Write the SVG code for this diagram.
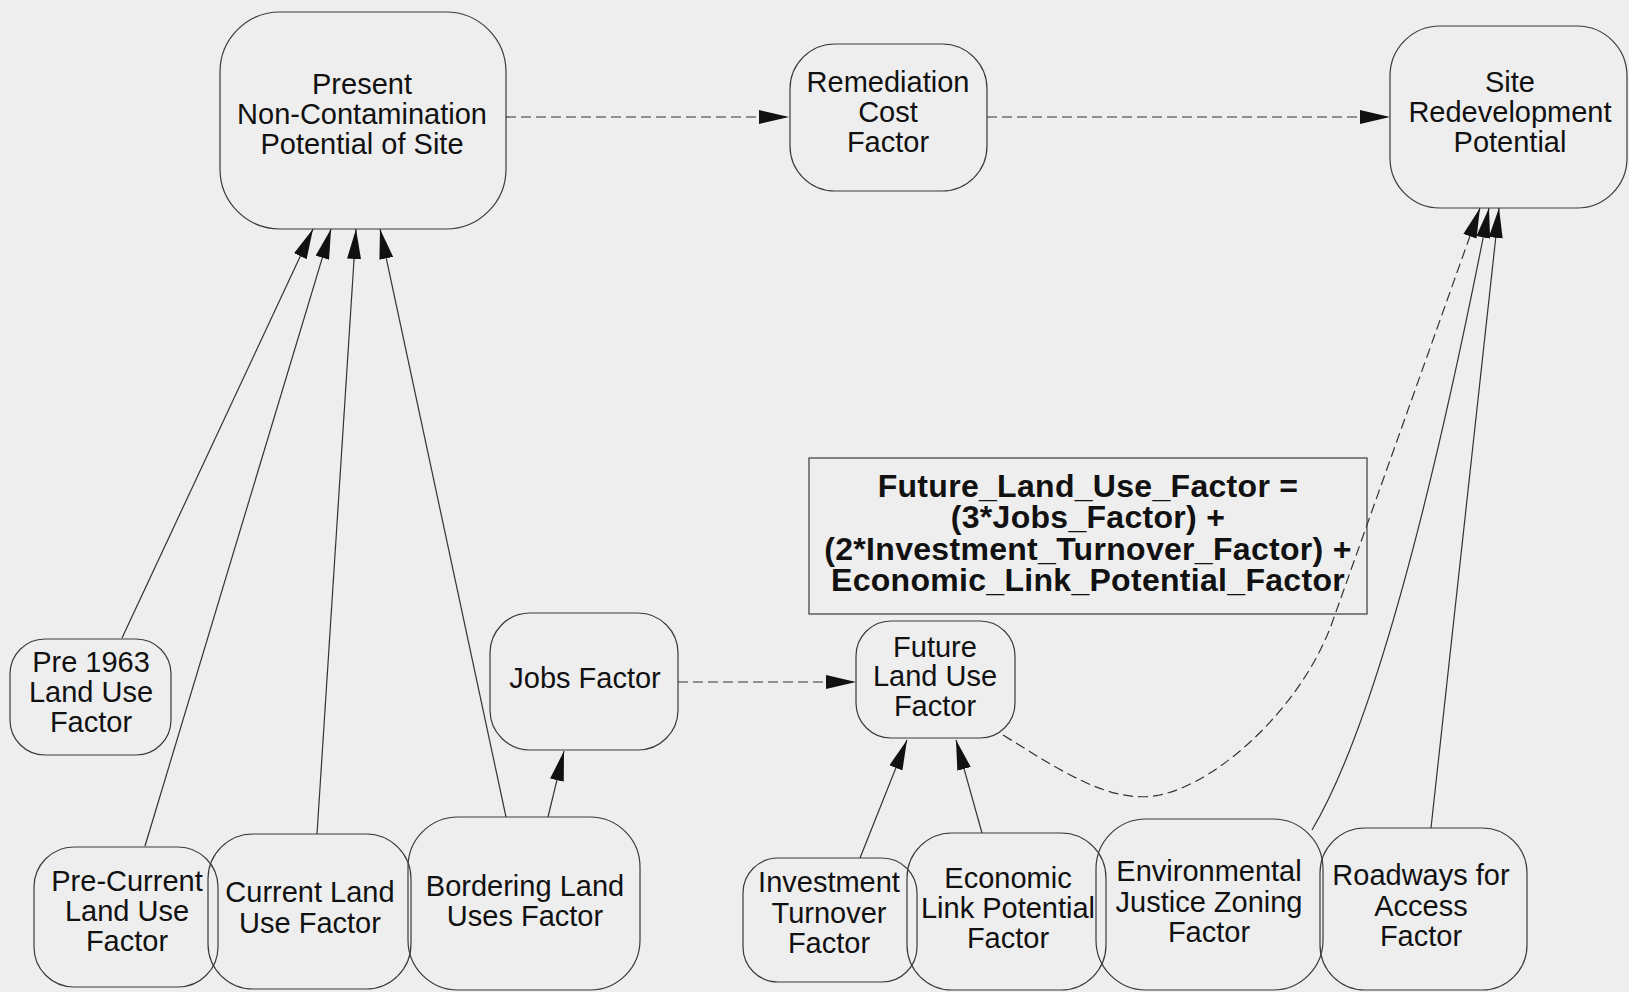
<svg xmlns="http://www.w3.org/2000/svg" width="1629" height="992" viewBox="0 0 1629 992">
  <style>
    .node { fill: none; stroke: #3a3a3a; stroke-width: 1.2; }
    .lbl { font-family: "Liberation Sans", Arial, sans-serif; font-size: 29px; fill: #111; text-anchor: middle; }
    .eq { font-family: "Liberation Sans", Arial, sans-serif; font-size: 32px; font-weight: bold; letter-spacing: 0.3px; fill: #111; text-anchor: middle; }
    .link { fill: none; stroke: #333; stroke-width: 1.2; marker-end: url(#arrow); }
    .flow { stroke-dasharray: 10 5; }
  </style>
  <defs>
    <marker id="arrow" viewBox="0 0 30 14" refX="30" refY="7" markerWidth="30" markerHeight="14" markerUnits="userSpaceOnUse" orient="auto">
      <path d="M0,0 L30,7 L0,14 z" fill="#111"/>
    </marker>
  </defs>

  <rect width="1629" height="992" fill="#eeeeee"/>

  <!-- connectors -->
  <g id="connectors">
    <line class="link flow" x1="506" y1="117" x2="789" y2="117"/>
    <line class="link flow" x1="987" y1="117" x2="1390" y2="117"/>
    <line class="link" x1="122" y1="638" x2="313" y2="229"/>
    <line class="link" x1="145" y1="846" x2="331" y2="229"/>
    <line class="link" x1="317" y1="834" x2="356" y2="229"/>
    <line class="link" x1="506" y1="817" x2="380" y2="229"/>
    <line class="link" x1="548" y1="817" x2="564" y2="751"/>
    <line class="link flow" x1="678" y1="682" x2="856" y2="682"/>
    <line class="link" x1="860" y1="858" x2="907" y2="740"/>
    <line class="link" x1="982" y1="833" x2="956" y2="740"/>
    <!-- future land use feeds the site potential, passing behind the formula box -->
    <path class="link flow" d="M1003,735 C1060,770 1110,805 1160,795 C1220,782 1302,706 1332,623 L1480,208"/>
    <path class="link" d="M1312,830 Q1395,690 1489,208"/>
    <line class="link" x1="1431" y1="828" x2="1499" y2="208"/>
  </g>

  <g id="present-non-contamination">
    <rect class="node" x="220" y="12" width="286" height="217" rx="60"/>
    <text class="lbl" x="362" y="94">Present</text>
    <text class="lbl" x="362" y="124">Non-Contamination</text>
    <text class="lbl" x="362" y="154">Potential of Site</text>
  </g>

  <g id="remediation-cost">
    <rect class="node" x="790" y="44" width="197" height="147" rx="45"/>
    <text class="lbl" x="888" y="92">Remediation</text>
    <text class="lbl" x="888" y="122">Cost</text>
    <text class="lbl" x="888" y="152">Factor</text>
  </g>

  <g id="site-redevelopment">
    <rect class="node" x="1390" y="26" width="237" height="182" rx="50"/>
    <text class="lbl" x="1510" y="92">Site</text>
    <text class="lbl" x="1510" y="122">Redevelopment</text>
    <text class="lbl" x="1510" y="152">Potential</text>
  </g>

  <g id="formula">
    <rect class="node" x="809" y="458" width="558" height="156"/>
    <text class="eq" x="1088" y="497">Future_Land_Use_Factor =</text>
    <text class="eq" x="1088" y="528">(3*Jobs_Factor) +</text>
    <text class="eq" x="1088" y="560">(2*Investment_Turnover_Factor) +</text>
    <text class="eq" x="1088" y="591">Economic_Link_Potential_Factor</text>
  </g>

  <g id="future-land-use">
    <rect class="node" x="856" y="621" width="159" height="117" rx="35"/>
    <text class="lbl" x="935" y="657">Future</text>
    <text class="lbl" x="935" y="686">Land Use</text>
    <text class="lbl" x="935" y="716">Factor</text>
  </g>

  <g id="jobs">
    <rect class="node" x="490" y="613" width="188" height="137" rx="40"/>
    <text class="lbl" x="585" y="688">Jobs Factor</text>
  </g>

  <g id="pre-1963">
    <rect class="node" x="10" y="639" width="161" height="116" rx="35"/>
    <text class="lbl" x="91" y="672">Pre 1963</text>
    <text class="lbl" x="91" y="702">Land Use</text>
    <text class="lbl" x="91" y="732">Factor</text>
  </g>

  <g id="pre-current">
    <rect class="node" x="34" y="847" width="184" height="140" rx="40"/>
    <text class="lbl" x="127" y="891">Pre-Current</text>
    <text class="lbl" x="127" y="921">Land Use</text>
    <text class="lbl" x="127" y="951">Factor</text>
  </g>

  <g id="current-land-use">
    <rect class="node" x="208" y="834" width="203" height="155" rx="45"/>
    <text class="lbl" x="310" y="902">Current Land</text>
    <text class="lbl" x="310" y="933">Use Factor</text>
  </g>

  <g id="bordering-land-uses">
    <rect class="node" x="408" y="817" width="232" height="173" rx="50"/>
    <text class="lbl" x="525" y="896">Bordering Land</text>
    <text class="lbl" x="525" y="926">Uses Factor</text>
  </g>

  <g id="investment-turnover">
    <rect class="node" x="743" y="858" width="174" height="124" rx="35"/>
    <text class="lbl" x="829" y="892">Investment</text>
    <text class="lbl" x="829" y="923">Turnover</text>
    <text class="lbl" x="829" y="953">Factor</text>
  </g>

  <g id="economic-link">
    <rect class="node" x="907" y="833" width="199" height="157" rx="45"/>
    <text class="lbl" x="1008" y="888">Economic</text>
    <text class="lbl" x="1008" y="918">Link Potential</text>
    <text class="lbl" x="1008" y="948">Factor</text>
  </g>

  <g id="environmental-justice">
    <rect class="node" x="1096" y="819" width="227" height="171" rx="50"/>
    <text class="lbl" x="1209" y="881">Environmental</text>
    <text class="lbl" x="1209" y="912">Justice Zoning</text>
    <text class="lbl" x="1209" y="942">Factor</text>
  </g>

  <g id="roadways-access">
    <rect class="node" x="1320" y="828" width="207" height="162" rx="45"/>
    <text class="lbl" x="1421" y="885">Roadways for</text>
    <text class="lbl" x="1421" y="916">Access</text>
    <text class="lbl" x="1421" y="946">Factor</text>
  </g>
</svg>
